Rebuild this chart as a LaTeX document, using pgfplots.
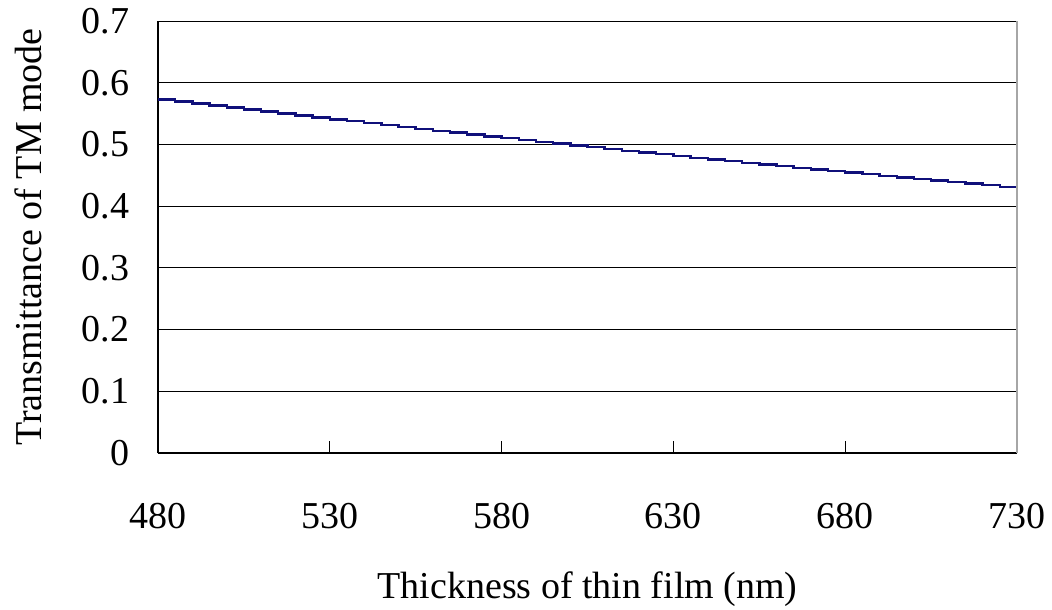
\documentclass[border=0pt]{standalone}
\usepackage{fontspec}
\setmainfont{Liberation Serif}
\usepackage{pgfplots}
\pgfplotsset{compat=1.18}
\definecolor{navyline}{HTML}{10107A}
\newcommand{\bigfont}{\fontsize{38}{42}\selectfont}
\begin{document}
\bigfont
\begin{tikzpicture}
\begin{axis}[
  at={(0pt,0pt)}, anchor=south west,
  scale only axis, width=859pt, height=432pt,
  xmin=480, xmax=730, ymin=0, ymax=0.7,
  xtick={480,530,...,730},
  ytick={0,0.1,...,0.7},
  yticklabels={0,0.1,0.2,0.3,0.4,0.5,0.6,0.7},
  /pgf/number format/assume math mode=true,
  axis x line*=bottom, axis y line*=left,
  axis line style={black, line width=1.2pt, -},
  ymajorgrids, grid style={black, line width=0.9pt},
  xtick style={black, line width=0.9pt},
  ytick style={draw=none},
  tick align=inside, major tick length=12pt,
  xticklabel style={font=\bigfont, anchor=center, yshift=-63pt},
  yticklabel style={font=\bigfont, anchor=east, xshift=-16pt},
  xlabel={Thickness of thin film (nm)},
  ylabel={Transmittance of TM mode},
  every axis x label/.style={at={(axis description cs:0.5,-0.315)}, anchor=center, font=\bigfont},
  every axis y label/.style={at={(axis description cs:-0.151,0.5)}, rotate=90, anchor=center, font=\bigfont},
  clip=false,
]
\addplot[const plot, navyline, line width=2.4pt] coordinates {
(480,0.5730)(485,0.5697)(490,0.5664)(495,0.5631)(500,0.5598)(505,0.5566)
(510,0.5533)(515,0.5501)(520,0.5469)(525,0.5438)(530,0.5406)(535,0.5375)
(540,0.5343)(545,0.5312)(550,0.5281)(555,0.5251)(560,0.5220)(565,0.5190)
(570,0.5160)(575,0.5130)(580,0.5100)(585,0.5070)(590,0.5041)(595,0.5012)
(600,0.4983)(605,0.4954)(610,0.4925)(615,0.4897)(620,0.4868)(625,0.4840)
(630,0.4812)(635,0.4784)(640,0.4757)(645,0.4729)(650,0.4702)(655,0.4675)
(660,0.4648)(665,0.4621)(670,0.4595)(675,0.4568)(680,0.4542)(685,0.4516)
(690,0.4490)(695,0.4465)(700,0.4439)(705,0.4414)(710,0.4389)(715,0.4364)
(720,0.4339)(725,0.4314)(730,0.4290)
};
\draw[gray!70, line width=1.2pt] (axis cs:730,0) -- (axis cs:730,0.7);
\end{axis}
\pgfresetboundingbox
\path (-158pt,-157pt) rectangle (894pt,453pt);
\end{tikzpicture}
\end{document}
